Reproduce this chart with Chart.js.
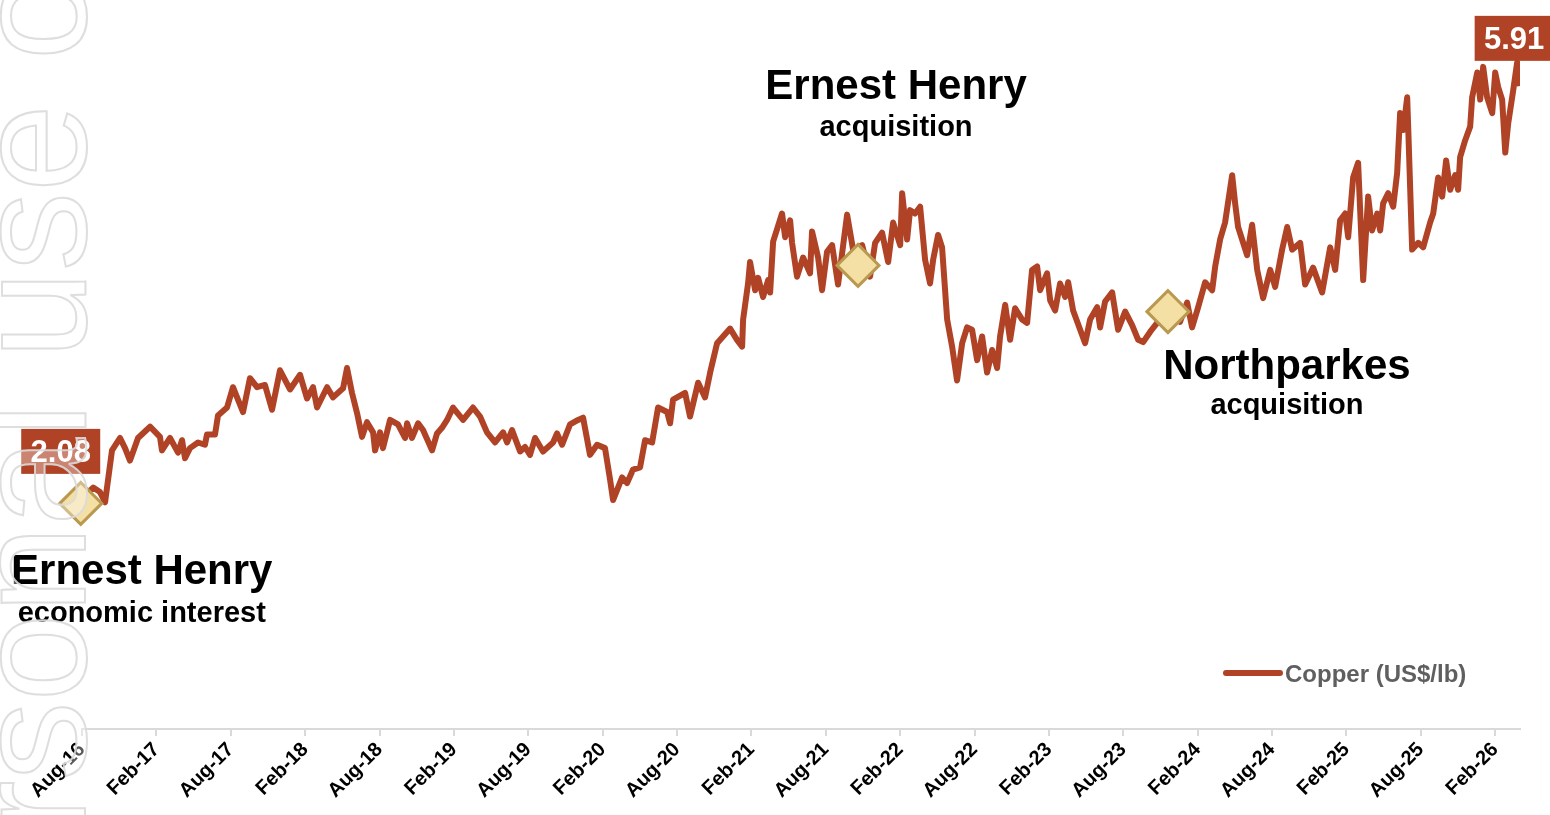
<!DOCTYPE html>
<html>
<head>
<meta charset="utf-8">
<title>Copper price</title>
<script src="https://cdn.jsdelivr.net/npm/chart.js@4.4.1/dist/chart.umd.min.js"></script>
<style>
  html, body { margin: 0; padding: 0; background: #fff; }
  #wrap { width: 1550px; height: 815px; position: relative; }
</style>
</head>
<body>
<div id="wrap"><canvas id="copperChart" width="1550" height="815"></canvas></div>
<script>
const FONT = '"Liberation Sans", Arial, Helvetica, sans-serif';
const RUST = '#B04326';

// x axis tick labels, one every 6 months starting Aug-16
const tickLabels = ['Aug-16', 'Feb-17', 'Aug-17', 'Feb-18', 'Aug-18', 'Feb-19', 'Aug-19', 'Feb-20',
  'Aug-20', 'Feb-21', 'Aug-21', 'Feb-22', 'Aug-22', 'Feb-23', 'Aug-23', 'Feb-24', 'Aug-24',
  'Feb-25', 'Aug-25', 'Feb-26'];

// copper price: months since Aug 2016, and price in US$/lb
const monthIdx = [0.3, 0.9, 1.45, 1.86, 2.42, 3.07, 3.47, 3.87, 4.52, 5.49, 6.29, 6.45, 7.10, 7.75, 8.07,
  8.31, 8.71, 9.36, 9.92, 10.08, 10.73, 10.97, 11.70, 12.18, 12.51, 12.99, 13.55, 14.12, 14.76, 15.33,
  15.97, 16.78, 17.59, 18.15, 18.64, 18.96, 19.77, 20.25, 21.06, 21.38, 21.78, 22.19, 22.59, 22.99,
  23.48, 23.64, 24.04, 24.28, 24.85, 25.49, 26.06, 26.22, 26.62, 27.11, 27.51, 28.24, 28.64, 29.04,
  29.45, 29.93, 30.74, 31.54, 32.11, 32.67, 33.32, 33.97, 34.29, 34.69, 35.34, 35.74, 36.14, 36.55,
  37.19, 38.00, 38.32, 38.73, 39.37, 40.02, 40.42, 40.98, 41.55, 42.19, 42.60, 42.84, 43.57, 43.97,
  44.45, 45.02, 45.42, 45.99, 46.47, 47.20, 47.44, 47.68, 48.65, 49.05, 49.70, 50.26, 50.67, 51.23,
  51.71, 52.28, 52.84, 53.25, 53.33, 53.73, 53.89, 54.30, 54.54, 54.94, 55.35, 55.51, 55.75, 56.47,
  56.72, 57.12, 57.28, 57.68, 58.17, 58.73, 58.89, 59.38, 59.70, 60.10, 60.51, 60.99, 61.72, 62.20,
  62.93, 63.57, 63.98, 64.54, 65.03, 65.43, 66.00, 66.16, 66.56, 66.80, 67.20, 67.61, 68.01, 68.41,
  68.66, 69.06, 69.38, 69.79, 70.19, 70.59, 71.00, 71.40, 71.80, 72.21, 72.61, 73.01, 73.42, 73.82,
  74.06, 74.47, 74.87, 75.27, 75.84, 76.24, 76.64, 77.05, 77.29, 77.85, 78.10, 78.50, 78.90, 79.31,
  79.55, 79.95, 80.52, 80.92, 81.32, 81.89, 82.13, 82.53, 83.10, 83.58, 84.15, 84.71, 85.20, 85.60,
  86.16, 86.73, 87.62, 88.58, 89.15, 89.55, 90.04, 90.60, 91.17, 91.41, 91.81, 92.21, 92.78, 93.02,
  93.26, 93.99, 94.39, 94.80, 95.28, 95.85, 96.25, 96.81, 97.22, 97.62, 98.27, 98.67, 99.31, 100.04,
  100.69, 101.09, 101.49, 101.90, 102.14, 102.54, 102.94, 103.35, 103.75, 104.07, 104.48, 104.72,
  104.96, 105.37, 105.77, 106.09, 106.33, 106.58, 106.90, 106.98, 107.30, 107.79, 108.19, 108.75,
  109.00, 109.40, 109.72, 110.04, 110.37, 110.77, 111.01, 111.17, 111.58, 111.98, 112.14, 112.55,
  112.79, 113.03, 113.35, 113.76, 114.00, 114.24, 114.56, 114.81, 115.05, 115.45, 115.77, 116.00];

const copper = [2.08, 2.14, 2.10, 2.01, 2.47, 2.58, 2.49, 2.38, 2.58, 2.68, 2.59, 2.47, 2.58, 2.45, 2.56,
  2.40, 2.49, 2.54, 2.52, 2.61, 2.61, 2.78, 2.85, 3.03, 2.94, 2.81, 3.11, 3.03, 3.05, 2.83,
  3.18, 3.01, 3.14, 2.93, 3.03, 2.85, 3.03, 2.94, 3.02, 3.20, 2.98, 2.80, 2.59, 2.72,
  2.63, 2.47, 2.63, 2.49, 2.74, 2.70, 2.58, 2.71, 2.58, 2.71, 2.65, 2.47, 2.62, 2.67,
  2.74, 2.85, 2.74, 2.85, 2.77, 2.63, 2.54, 2.63, 2.54, 2.65, 2.46, 2.50, 2.43, 2.58,
  2.46, 2.54, 2.62, 2.52, 2.70, 2.74, 2.76, 2.43, 2.52, 2.49, 2.21, 2.03, 2.23, 2.18,
  2.30, 2.32, 2.56, 2.54, 2.85, 2.81, 2.71, 2.92, 2.98, 2.77, 3.07, 2.94, 3.16, 3.42,
  3.48, 3.55, 3.45, 3.39, 3.63, 3.95, 4.14, 3.89, 4.00, 3.83, 3.98, 3.87, 4.32, 4.57,
  4.36, 4.51, 4.31, 4.01, 4.18, 4.04, 4.41, 4.18, 3.89, 4.23, 4.29, 3.94, 4.56, 4.25,
  4.29, 4.01, 4.31, 4.40, 4.14, 4.49, 4.29, 4.75, 4.34, 4.60, 4.57, 4.63, 4.16, 3.95,
  4.16, 4.38, 4.27, 3.63, 3.39, 3.09, 3.42, 3.56, 3.54, 3.27, 3.48, 3.16, 3.36, 3.20,
  3.48, 3.76, 3.45, 3.73, 3.63, 3.60, 4.07, 4.10, 3.89, 4.04, 3.80, 3.71, 3.95, 3.83,
  3.96, 3.71, 3.54, 3.42, 3.63, 3.74, 3.56, 3.79, 3.87, 3.54, 3.70, 3.58, 3.45, 3.43,
  3.52, 3.60, 3.67, 3.61, 3.78, 3.56, 3.74, 3.96, 3.89, 4.10, 4.34, 4.49, 4.91, 4.66,
  4.45, 4.20, 4.47, 4.07, 3.82, 4.07, 3.92, 4.25, 4.45, 4.25, 4.31, 3.94, 4.09, 3.87,
  4.27, 4.07, 4.51, 4.57, 4.36, 4.89, 5.02, 3.98, 4.72, 4.42, 4.57, 4.42,
  4.66, 4.75, 4.63, 4.93, 5.46, 5.31, 5.60, 5.34, 4.25, 4.31, 4.27, 4.49,
  4.57, 4.89, 4.72, 5.04, 4.78, 4.91, 4.78, 5.07, 5.22, 5.34, 5.60, 5.82,
  5.58, 5.87, 5.60, 5.46, 5.82, 5.69, 5.58, 5.11, 5.37, 5.66, 5.91, 5.70];

// acquisition events marked with diamonds
const eventMonths = [-0.1, 62.6, 87.6];
const eventValues = [2.00, 4.11, 3.70];
const eventTitles = ['Ernest Henry', 'Ernest Henry', 'Northparkes'];
const eventSubtitles = ['economic interest', 'acquisition', 'acquisition'];

// draws the event captions and the first / peak value boxes
const eventLabels = {
  id: 'eventLabels',
  afterDatasetsDraw(chart, args, opts) {
    const { ctx, scales: { x, y } } = chart;
    ctx.save();
    ctx.textAlign = 'center';
    ctx.textBaseline = 'alphabetic';
    ctx.fillStyle = '#000';
    eventMonths.forEach((m, i) => {
      const px = x.getPixelForValue(m);
      const py = y.getPixelForValue(eventValues[i]);
      const o = opts.offsets[i];
      ctx.font = 'bold 42px ' + FONT;
      ctx.fillText(eventTitles[i], px + o.dx, py + o.dy);
      ctx.font = 'bold 29px ' + FONT;
      ctx.fillText(eventSubtitles[i], px + o.dx, py + o.dy + o.gap);
    });

    // value boxes: first value and highest value
    const peak = copper.indexOf(Math.max(...copper));
    [[0, opts.firstBox], [peak, opts.peakBox]].forEach(([idx, b]) => {
      const cx = x.getPixelForValue(monthIdx[idx]) + b.dx;
      const cy = y.getPixelForValue(copper[idx]) + b.dy;
      ctx.fillStyle = RUST;
      ctx.fillRect(cx - 39.5, cy - 22.5, 79, 45);
      ctx.fillStyle = '#fff';
      ctx.font = 'bold 31px ' + FONT;
      ctx.fillText(copper[idx].toFixed(2), cx, cy + 11);
    });
    ctx.restore();
  }
};

// legend drawn inside the plot, bottom right
const insideLegend = {
  id: 'insideLegend',
  afterDraw(chart, args, opts) {
    const { ctx } = chart;
    const ds = chart.data.datasets[1];
    ctx.save();
    ctx.strokeStyle = ds.borderColor;
    ctx.lineWidth = 6;
    ctx.lineCap = 'round';
    ctx.beginPath();
    ctx.moveTo(opts.x, opts.y);
    ctx.lineTo(opts.x + 54, opts.y);
    ctx.stroke();
    ctx.fillStyle = '#5f5f5f';
    ctx.font = 'bold 24px ' + FONT;
    ctx.textAlign = 'left';
    ctx.textBaseline = 'alphabetic';
    ctx.fillText(ds.label, opts.x + 59, opts.y + 9);
    ctx.restore();
  }
};

// outlined watermark running up the left edge
const watermark = {
  id: 'watermark',
  afterDraw(chart) {
    const { ctx } = chart;
    const text = 'For personal use only';
    ctx.save();
    ctx.translate(85, 833);
    ctx.rotate(-Math.PI / 2);
    ctx.font = '158px ' + FONT;
    ctx.textBaseline = 'alphabetic';
    const start = -ctx.measureText('For pe').width;
    ctx.fillStyle = 'rgba(255,255,255,0.35)';
    ctx.fillText(text, start, 0);
    ctx.strokeStyle = 'rgba(218,218,218,0.9)';
    ctx.lineWidth = 2;
    ctx.strokeText(text, start, 0);
    ctx.restore();
  }
};

new Chart(document.getElementById('copperChart'), {
  type: 'line',
  data: {
    datasets: [
      {
        label: 'Events',
        data: eventMonths.map((m, i) => ({ x: m, y: eventValues[i] })),
        showLine: false,
        pointStyle: 'rectRot',
        pointRadius: 21,
        pointBackgroundColor: '#F4DFA5',
        pointBorderColor: '#B9994F',
        pointBorderWidth: 3,
        clip: false,
        order: 0
      },
      {
        label: 'Copper (US$/lb)',
        data: monthIdx.map((m, i) => ({ x: m, y: copper[i] })),
        borderColor: RUST,
        borderWidth: 6,
        pointRadius: 0,
        tension: 0,
        borderJoinStyle: 'round',
        order: 1
      }
    ]
  },
  options: {
    responsive: false,
    animation: false,
    devicePixelRatio: 1,
    layout: { padding: { left: 82, right: 30, top: 7, bottom: 0 } },
    scales: {
      x: {
        type: 'linear',
        min: 0,
        max: 116,
        afterBuildTicks: (s) => { s.ticks = tickLabels.map((_, i) => ({ value: i * 6 })); },
        afterFit: (s) => { s.height = 86; },
        ticks: {
          autoSkip: false,
          minRotation: 45,
          maxRotation: 45,
          padding: 2,
          color: '#000',
          font: { family: FONT, size: 20, weight: 'bold' },
          callback: (v) => tickLabels[Math.round(v / 6)]
        },
        grid: { drawOnChartArea: false, drawTicks: true, tickLength: 7, color: '#d9d9d9', lineWidth: 2 },
        border: { display: true, color: '#d9d9d9', width: 2 }
      },
      y: { display: false, min: 0, max: 6.25 }
    },
    plugins: {
      legend: { display: false },
      tooltip: { enabled: false },
      eventLabels: {
        offsets: [
          { dx: 61, dy: 81, gap: 38 },
          { dx: 38, dy: -166, gap: 37 },
          { dx: 119, dy: 67, gap: 35 }
        ],
        firstBox: { dx: -25, dy: -43 },
        peakBox: { dx: -3, dy: -24 }
      },
      insideLegend: { x: 1226, y: 673 }
    }
  },
  plugins: [eventLabels, insideLegend, watermark]
});
</script>
</body>
</html>
